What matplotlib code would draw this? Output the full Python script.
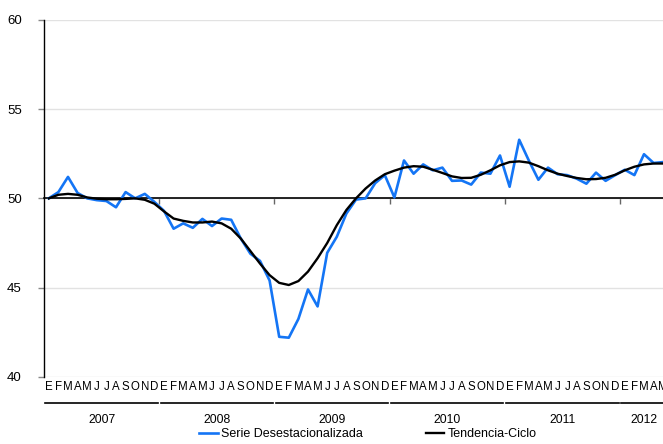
import matplotlib
matplotlib.use("Agg")
import matplotlib.pyplot as plt
import matplotlib.transforms as mtransforms
import numpy as np

plt.rcParams['font.family'] = ['Liberation Sans', 'DejaVu Sans']

years = ['2007', '2008', '2009', '2010', '2011', '2012']
month_letters = ['E', 'F', 'M', 'A', 'M', 'J', 'J', 'A', 'S', 'O', 'N', 'D']

serie_desest = [
    # 2007
    50.0, 50.35, 51.2, 50.3, 50.0, 49.9, 49.85, 49.5, 50.35, 50.0, 50.25, 49.8,
    # 2008
    49.3, 48.3, 48.6, 48.35, 48.85, 48.45, 48.87, 48.8, 47.75, 46.9, 46.5, 45.4,
    # 2009
    42.25, 42.2, 43.25, 44.9, 43.95, 46.95, 47.85, 49.15, 49.93, 50.0, 50.85, 51.3,
    # 2010
    50.05, 52.12, 51.38, 51.9, 51.57, 51.72, 50.98, 51.0, 50.77, 51.44, 51.38, 52.4,
    # 2011
    50.65, 53.28, 52.12, 51.04, 51.72, 51.35, 51.3, 51.1, 50.82, 51.44, 50.98, 51.3,
    # 2012
    51.6, 51.3, 52.47, 51.98, 52.03,
]

tendencia_ciclo = [
    # 2007
    50.0, 50.2, 50.25, 50.2, 50.05, 49.98, 49.95, 49.95, 49.97, 50.0, 49.92, 49.7,
    # 2008
    49.27, 48.87, 48.74, 48.65, 48.65, 48.7, 48.6, 48.3, 47.75, 47.05, 46.35, 45.7,
    # 2009
    45.27, 45.15, 45.37, 45.9, 46.65, 47.5, 48.5, 49.35, 50.0, 50.55, 51.0, 51.35,
    # 2010
    51.55, 51.72, 51.8, 51.77, 51.6, 51.42, 51.23, 51.14, 51.15, 51.32, 51.57, 51.85,
    # 2011
    52.03, 52.07, 52.0, 51.8, 51.57, 51.38, 51.25, 51.14, 51.07, 51.08, 51.15, 51.32,
    # 2012
    51.57, 51.77, 51.9, 51.95, 51.95,
]

n = len(serie_desest)
x = np.arange(n)

W, H = 663, 444
fig = plt.figure(figsize=(W / 100, H / 100), dpi=100)
ax = fig.add_axes([44 / W, (H - 377) / H, 624 / W, 357.3 / H])

blue = '#1475F5'
l1, = ax.plot(x, serie_desest, color=blue, lw=1.9, label='Serie Desestacionalizada', zorder=3)
l2, = ax.plot(x, tendencia_ciclo, color='black', lw=1.7, label='Tendencia-Ciclo', zorder=4)

ax.set_xlim(-0.5, n - 0.5)
ax.set_ylim(40, 60)
ax.set_yticks([40, 45, 50, 55, 60])
ax.yaxis.grid(True, color='#e2e2e2', lw=1.0)
ax.set_axisbelow(True)

for s in ['top', 'right']:
    ax.spines[s].set_visible(False)
ax.spines['left'].set_color('black')
ax.spines['left'].set_linewidth(1.0)
ax.spines['bottom'].set_position(('data', 50))
ax.spines['bottom'].set_color('black')
ax.spines['bottom'].set_linewidth(1.2)
ax.spines['bottom'].set_zorder(2)

boundaries = [12 * k - 0.5 for k in range(1, len(years))]
ax.set_xticks(boundaries)
ax.set_xticklabels([])
ax.tick_params(axis='x', direction='out', length=4, color='#666666', width=1)
ax.tick_params(axis='y', direction='out', length=4, color='#888888', width=1,
               labelsize=9.5, pad=12)

trans = mtransforms.blended_transform_factory(ax.transData, ax.transAxes)
for i in range(n):
    ax.text(x[i], -0.028, month_letters[i % 12], transform=trans, ha='center',
            va='center', fontsize=8.3, clip_on=False)

for k, yr in enumerate(years):
    first = 12 * k
    last = min(12 * k + 11, n - 1)
    x0 = first - 0.5 + 0.15
    x1 = (12 * k + 11.5 - 0.15) if last == 12 * k + 11 else n + 0.5
    ax.plot([x0, x1], [-0.072, -0.072], transform=trans, color='black', lw=1.2,
            clip_on=False)
    ax.text((first + last) / 2, -0.12, yr, transform=trans, ha='center', va='center',
            fontsize=8.7, clip_on=False)

fig.legend(handles=[l1, l2], loc='center', bbox_to_anchor=(0.555, 0.022), ncol=2,
           frameon=False, fontsize=9, handlelength=1.5, handletextpad=0.3,
           columnspacing=5.0)

fig.savefig('out.png', dpi=100)
